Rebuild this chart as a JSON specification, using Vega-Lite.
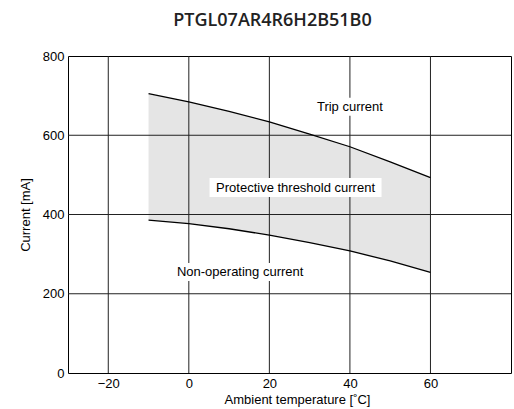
{
  "$schema": "https://vega.github.io/schema/vega-lite/v6.json",
  "width": 443,
  "height": 317,
  "autosize": "none",
  "padding": {"left": 68, "top": 56, "right": 3, "bottom": 36},
  "background": "white",
  "config": {
    "view": {"stroke": "#000", "strokeWidth": 1},
    "axis": {"labelFont": "Liberation Sans, Arial, sans-serif", "titleFont": "Liberation Sans, Arial, sans-serif", "labelFontSize": 13, "titleFontSize": 13, "titleFontWeight": "normal", "labelColor": "#000", "titleColor": "#000", "grid": false, "ticks": false, "domain": false}
  },
  "title": {"text": "PTGL07AR4R6H2B51B0", "font": "Open Sans", "fontSize": 18, "fontWeight": 600, "color": "#222", "anchor": "middle", "frame": "group", "dx": -17, "offset": 20},
  "datasets": {
    "curves": [
      {"t": -10, "trip": 705, "non": 386},
      {"t": 0, "trip": 684, "non": 377},
      {"t": 10, "trip": 660, "non": 364},
      {"t": 20, "trip": 634, "non": 348},
      {"t": 30, "trip": 603, "non": 329},
      {"t": 40, "trip": 571, "non": 308},
      {"t": 50, "trip": 533, "non": 283},
      {"t": 60, "trip": 493, "non": 254}
    ],
    "vgrid": [{"v": -20}, {"v": 0}, {"v": 20}, {"v": 40}, {"v": 60}],
    "hgrid": [{"v": 200}, {"v": 400}, {"v": 600}],
    "labels": [
      {"label": "Trip current", "t": 40, "c": 672},
      {"label": "Protective threshold current", "t": 26.5, "c": 468},
      {"label": "Non-operating current", "t": 12.75, "c": 255}
    ]
  },
  "layer": [
    {
      "data": {"name": "curves"},
      "mark": {"type": "area", "color": "#e5e5e5", "opacity": 1},
      "encoding": {
        "x": {"field": "t", "type": "quantitative", "scale": {"domain": [-30, 80], "nice": false, "zero": false}, "axis": {"values": [-20, 0, 20, 40, 60], "title": "Ambient temperature [˚C]", "labelPadding": 4, "titlePadding": 3, "titleX": 229}},
        "y": {"field": "trip", "type": "quantitative", "scale": {"domain": [0, 800], "nice": false}, "axis": {"values": [0, 200, 400, 600, 800], "title": "Current [mA]", "labelPadding": 4, "titlePadding": 10}},
        "y2": {"field": "non"}
      }
    },
    {
      "data": {"name": "vgrid"},
      "mark": {"type": "rule", "color": "#222", "strokeWidth": 1},
      "encoding": {"x": {"field": "v", "type": "quantitative"}}
    },
    {
      "data": {"name": "hgrid"},
      "mark": {"type": "rule", "color": "#222", "strokeWidth": 1},
      "encoding": {"y": {"field": "v", "type": "quantitative"}}
    },
    {
      "data": {"name": "curves"},
      "mark": {"type": "line", "color": "#000", "strokeWidth": 1.3},
      "encoding": {"x": {"field": "t", "type": "quantitative"}, "y": {"field": "trip", "type": "quantitative"}}
    },
    {
      "data": {"name": "curves"},
      "mark": {"type": "line", "color": "#000", "strokeWidth": 1.3},
      "encoding": {"x": {"field": "t", "type": "quantitative"}, "y": {"field": "non", "type": "quantitative"}}
    },
    {
      "data": {"name": "labels"},
      "transform": [{"filter": "datum.label == 'Trip current'"}],
      "mark": {"type": "rect", "color": "white", "width": 74, "height": 18},
      "encoding": {"x": {"field": "t", "type": "quantitative"}, "y": {"field": "c", "type": "quantitative"}}
    },
    {
      "data": {"name": "labels"},
      "transform": [{"filter": "datum.label == 'Protective threshold current'"}],
      "mark": {"type": "rect", "color": "white", "width": 172, "height": 19},
      "encoding": {"x": {"field": "t", "type": "quantitative"}, "y": {"field": "c", "type": "quantitative"}}
    },
    {
      "data": {"name": "labels"},
      "transform": [{"filter": "datum.label == 'Non-operating current'"}],
      "mark": {"type": "rect", "color": "white", "width": 140, "height": 18},
      "encoding": {"x": {"field": "t", "type": "quantitative"}, "y": {"field": "c", "type": "quantitative"}}
    },
    {
      "data": {"name": "labels"},
      "mark": {"type": "text", "font": "Liberation Sans, Arial, sans-serif", "fontSize": 13, "color": "#000", "align": "center", "baseline": "middle"},
      "encoding": {"x": {"field": "t", "type": "quantitative"}, "y": {"field": "c", "type": "quantitative"}, "text": {"field": "label"}}
    }
  ]
}
